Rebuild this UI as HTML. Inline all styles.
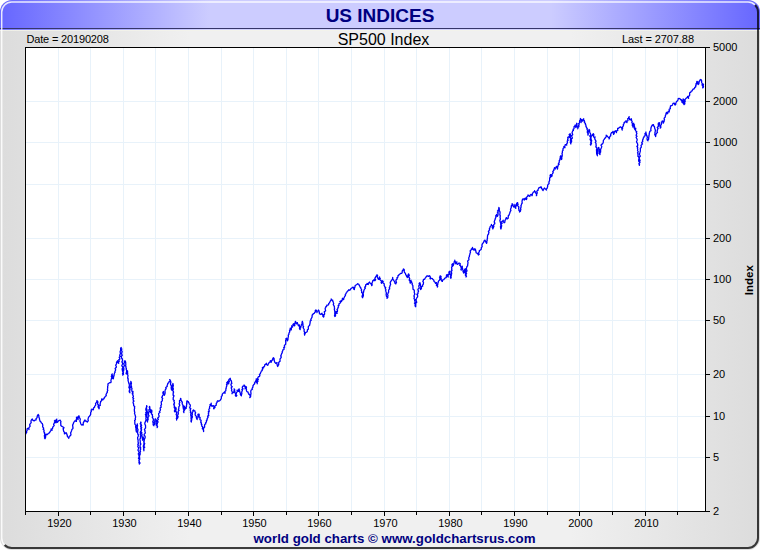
<!DOCTYPE html>
<html><head><meta charset="utf-8"><title>US INDICES</title>
<style>
html,body{margin:0;padding:0;background:#fff;}
body{width:760px;height:550px;overflow:hidden;font-family:"Liberation Sans",sans-serif;}
svg{display:block}
text{font-family:"Liberation Sans",sans-serif;}
</style></head><body>
<svg width="760" height="550" viewBox="0 0 760 550">
<defs>
<linearGradient id="bg" x1="0" y1="0" x2="1" y2="0">
<stop offset="0" stop-color="#dcdcdc"/><stop offset="0.25" stop-color="#f0f0f0"/><stop offset="0.75" stop-color="#f0f0f0"/><stop offset="1" stop-color="#dcdcdc"/>
</linearGradient>
<linearGradient id="tb" x1="0" y1="0" x2="1" y2="0">
<stop offset="0" stop-color="#6666ff"/><stop offset="0.275" stop-color="#ccccff"/><stop offset="0.725" stop-color="#ccccff"/><stop offset="1" stop-color="#6666ff"/>
</linearGradient>
<clipPath id="fr"><rect x="0" y="0" width="760" height="550" rx="12" ry="12"/></clipPath>
<clipPath id="pc"><rect x="25" y="47" width="681" height="465"/></clipPath>
</defs>
<g clip-path="url(#fr)">
<rect x="0" y="0" width="760" height="550" fill="url(#bg)"/>
<rect x="0" y="30" width="760" height="1" fill="#f4f4ea" fill-opacity="0.8"/>
<rect x="0" y="0" width="760" height="30" fill="url(#tb)"/>
<rect x="0" y="29" width="760" height="1" fill="#ffffff" fill-opacity="0.12"/>
<rect x="0" y="28" width="760" height="1" fill="#36366a"/>
</g>
<path d="M4.63,545.07 A10,10 0 0 1 1.7,538 V12 A10,10 0 0 1 11.7,2 H748 A10,10 0 0 1 755.07,4.93" fill="none" stroke="#ffffff" stroke-width="1.5" stroke-opacity="0.85"/>
<path d="M755.07,4.93 A10,10 0 0 1 758,12 V538 A10,10 0 0 1 748,548 H11.7 A10,10 0 0 1 4.63,545.07" fill="none" stroke="#000000" stroke-width="2" stroke-opacity="0.75"/>

<rect x="25" y="47" width="681" height="465" fill="#ffffff"/>
<rect x="58" y="48" width="1" height="463" fill="#e8f2fa"/>
<rect x="90" y="48" width="1" height="463" fill="#e8f2fa"/>
<rect x="123" y="48" width="1" height="463" fill="#e8f2fa"/>
<rect x="155" y="48" width="1" height="463" fill="#e8f2fa"/>
<rect x="188" y="48" width="1" height="463" fill="#e8f2fa"/>
<rect x="221" y="48" width="1" height="463" fill="#e8f2fa"/>
<rect x="253" y="48" width="1" height="463" fill="#e8f2fa"/>
<rect x="286" y="48" width="1" height="463" fill="#e8f2fa"/>
<rect x="318" y="48" width="1" height="463" fill="#e8f2fa"/>
<rect x="351" y="48" width="1" height="463" fill="#e8f2fa"/>
<rect x="384" y="48" width="1" height="463" fill="#e8f2fa"/>
<rect x="416" y="48" width="1" height="463" fill="#e8f2fa"/>
<rect x="449" y="48" width="1" height="463" fill="#e8f2fa"/>
<rect x="481" y="48" width="1" height="463" fill="#e8f2fa"/>
<rect x="514" y="48" width="1" height="463" fill="#e8f2fa"/>
<rect x="547" y="48" width="1" height="463" fill="#e8f2fa"/>
<rect x="579" y="48" width="1" height="463" fill="#e8f2fa"/>
<rect x="612" y="48" width="1" height="463" fill="#e8f2fa"/>
<rect x="645" y="48" width="1" height="463" fill="#e8f2fa"/>
<rect x="677" y="48" width="1" height="463" fill="#e8f2fa"/>
<rect x="26" y="101" width="679" height="1" fill="#e8f2fa"/>
<rect x="26" y="142" width="679" height="1" fill="#e8f2fa"/>
<rect x="26" y="184" width="679" height="1" fill="#e8f2fa"/>
<rect x="26" y="238" width="679" height="1" fill="#e8f2fa"/>
<rect x="26" y="279" width="679" height="1" fill="#e8f2fa"/>
<rect x="26" y="320" width="679" height="1" fill="#e8f2fa"/>
<rect x="26" y="374" width="679" height="1" fill="#e8f2fa"/>
<rect x="26" y="416" width="679" height="1" fill="#e8f2fa"/>
<rect x="26" y="457" width="679" height="1" fill="#e8f2fa"/>
<path d="M25.9,434.2 L25.9,433.2 L26.7,432.5 L26.3,431.5 L27.1,430.8 L27.1,429.9 L27.0,429.0 L27.8,428.3 L28.8,428.5 L29.0,429.5 L28.7,428.5 L29.0,427.7 L29.6,426.9 L30.2,426.1 L29.6,425.0 L29.9,424.2 L30.6,423.4 L31.2,422.6 L31.0,421.6 L31.0,420.7 L31.4,420.0 L32.3,419.0 L32.5,420.1 L33.6,420.3 L34.0,421.0 L34.5,420.3 L35.3,420.1 L36.2,419.9 L36.0,418.8 L36.8,418.1 L37.2,417.2 L37.2,416.2 L37.7,415.4 L38.1,414.4 L38.7,415.1 L38.9,416.0 L38.8,417.0 L39.2,417.8 L39.5,418.7 L39.5,419.6 L39.9,420.5 L40.1,421.3 L41.0,422.1 L41.4,423.0 L42.3,423.5 L42.6,424.5 L42.8,425.5 L42.6,426.5 L43.0,427.4 L43.7,428.2 L43.1,429.3 L44.0,430.1 L44.1,431.0 L43.8,431.9 L44.6,432.7 L44.4,433.6 L45.0,434.3 L44.4,435.3 L44.4,436.2 L44.8,437.0 L44.5,437.9 L45.0,438.7 L45.5,437.8 L45.6,436.8 L45.7,435.9 L45.8,434.9 L45.9,434.1 L47.1,434.7 L47.8,433.9 L48.8,433.5 L49.3,432.6 L50.0,432.0 L50.3,431.2 L50.9,430.6 L51.1,429.8 L51.1,428.9 L51.6,429.4 L52.1,430.2 L51.8,429.2 L52.6,428.6 L52.6,427.7 L52.9,427.0 L53.4,426.4 L54.2,425.6 L53.6,424.5 L54.0,423.6 L54.4,422.8 L55.1,422.0 L54.4,420.9 L55.2,420.1 L55.3,421.1 L55.1,422.1 L55.9,422.9 L56.4,422.1 L56.0,420.9 L56.4,420.0 L56.8,419.1 L56.5,420.1 L56.7,420.9 L57.8,421.5 L57.5,422.3 L58.0,421.4 L58.9,420.6 L59.5,420.4 L60.1,420.1 L60.6,421.0 L61.0,421.8 L60.6,422.7 L60.8,423.6 L60.8,424.5 L60.8,425.4 L61.4,425.9 L62.0,426.4 L62.6,426.8 L63.2,427.0 L64.0,427.8 L63.1,428.8 L63.4,429.7 L63.5,430.6 L63.7,431.4 L64.4,432.2 L64.5,433.0 L64.4,433.8 L65.3,433.4 L66.0,432.6 L66.6,433.4 L66.8,434.3 L67.2,435.2 L67.3,436.1 L67.6,436.9 L68.6,437.2 L68.8,438.3 L68.9,437.3 L69.6,436.6 L70.0,435.8 L70.9,435.0 L70.9,434.1 L70.6,433.0 L71.0,432.1 L71.4,431.3 L71.7,430.4 L71.9,429.5 L72.7,428.8 L73.1,428.0 L72.7,427.0 L72.9,426.2 L72.6,425.2 L72.9,424.4 L73.4,423.6 L73.5,422.8 L74.0,422.1 L74.4,421.2 L75.3,420.9 L76.4,421.4 L76.4,420.5 L76.2,419.5 L76.8,418.8 L76.4,417.7 L77.1,417.0 L76.9,418.0 L77.3,418.8 L78.1,419.5 L78.0,418.5 L78.3,417.6 L78.4,416.6 L78.9,415.8 L79.2,416.6 L79.2,417.6 L79.9,418.3 L80.3,419.2 L80.1,420.2 L79.9,421.2 L80.3,422.1 L80.6,423.1 L80.9,424.0 L81.5,425.0 L82.4,424.7 L83.1,425.1 L83.3,424.2 L83.2,423.2 L83.5,422.3 L84.1,421.5 L84.4,420.7 L85.0,419.9 L85.3,421.0 L86.5,421.2 L87.3,422.1 L88.0,421.2 L88.3,420.3 L87.9,419.1 L88.3,418.2 L88.5,417.4 L88.9,416.8 L89.5,416.3 L90.0,415.5 L90.6,414.7 L90.7,413.8 L90.6,412.8 L91.0,411.9 L91.4,411.1 L91.1,410.0 L91.9,409.6 L92.0,409.0 L92.4,409.6 L93.3,409.9 L93.5,408.9 L93.6,407.9 L94.6,407.3 L94.6,406.3 L95.3,405.6 L95.8,404.9 L95.5,403.9 L95.8,403.0 L96.7,402.5 L96.8,401.6 L96.9,400.6 L97.6,401.3 L97.9,402.2 L97.6,403.2 L97.7,404.2 L98.6,405.0 L98.1,406.1 L98.1,407.1 L98.7,407.9 L99.0,408.8 L99.3,407.9 L99.0,406.9 L99.0,406.0 L100.3,405.4 L100.1,404.4 L100.2,403.5 L100.5,402.6 L100.6,401.6 L101.4,400.9 L101.6,400.0 L101.7,398.9 L102.4,399.3 L102.8,400.0 L103.2,399.1 L104.1,398.6 L104.3,397.6 L105.0,397.0 L105.4,396.2 L106.3,395.6 L106.0,394.6 L106.4,393.8 L106.8,393.0 L107.4,392.2 L107.2,391.3 L107.8,390.4 L107.4,389.3 L107.6,388.4 L107.7,387.4 L107.6,386.4 L108.0,385.7 L107.9,384.8 L108.0,383.9 L108.8,383.4 L109.6,382.6 L110.7,382.7 L111.1,381.9 L111.0,380.9 L110.9,380.0 L111.3,379.2 L111.5,378.3 L111.9,377.5 L111.3,376.5 L111.9,375.7 L111.7,374.7 L112.3,373.9 L112.0,374.8 L112.5,375.6 L112.6,376.4 L112.5,377.3 L112.5,378.2 L113.2,378.9 L113.5,378.1 L113.5,377.3 L113.7,376.4 L114.1,375.6 L114.0,374.7 L114.3,373.9 L114.4,373.1 L115.1,372.3 L114.9,371.4 L115.4,370.6 L115.7,369.8 L115.1,368.7 L115.6,368.0 L116.3,367.2 L116.3,366.3 L115.7,365.3 L116.2,364.4 L116.6,363.5 L116.5,362.4 L117.0,361.6 L117.7,360.7 L117.7,361.6 L117.9,362.5 L118.7,363.3 L118.3,362.3 L119.1,361.6 L119.2,360.8 L118.7,359.8 L119.8,359.1 L119.6,358.2 L119.2,357.3 L120.2,356.5 L119.7,355.6 L119.9,354.7 L120.3,353.9 L120.6,353.0 L120.0,352.0 L120.4,351.1 L120.7,350.2 L120.6,349.3 L120.6,348.4 L121.2,347.5 L120.9,348.4 L121.9,349.0 L121.4,349.9 L121.6,350.7 L122.2,351.6 L121.9,352.5 L121.6,353.5 L121.8,354.4 L122.3,355.3 L121.3,356.3 L121.6,357.2 L121.4,358.1 L122.5,359.0 L122.3,359.9 L122.6,360.8 L121.8,361.8 L122.4,362.7 L122.7,363.6 L122.3,364.5 L121.8,365.5 L122.2,366.4 L122.7,367.2 L122.9,368.1 L122.0,369.0 L122.5,369.9 L122.3,370.8 L123.1,371.6 L123.2,372.5 L122.5,373.4 L122.9,374.3 L122.7,375.1 L123.5,374.3 L123.2,373.4 L123.5,372.6 L122.7,371.6 L123.8,370.8 L122.9,369.8 L124.0,369.1 L123.6,368.1 L123.6,367.2 L123.9,366.4 L124.5,365.5 L123.9,364.4 L123.9,363.5 L124.5,362.6 L124.4,361.6 L125.0,360.7 L125.4,361.5 L125.7,362.4 L125.7,363.3 L125.8,364.2 L125.8,365.1 L125.5,366.0 L126.1,366.9 L125.9,367.8 L126.4,368.6 L126.2,369.5 L126.7,370.4 L126.5,371.3 L126.8,372.1 L126.0,373.1 L126.4,373.9 L126.3,373.0 L126.8,372.3 L127.6,371.7 L127.5,370.8 L127.1,371.7 L127.6,372.6 L127.7,373.5 L127.4,374.4 L128.0,375.3 L127.9,376.2 L127.8,377.1 L127.6,378.1 L128.3,378.9 L127.9,379.9 L128.2,380.8 L128.4,381.7 L128.7,382.6 L128.9,383.5 L129.3,384.4 L129.3,385.3 L129.5,386.2 L128.8,387.2 L129.4,388.0 L129.4,388.9 L129.9,389.8 L129.2,390.9 L129.3,391.9 L129.9,392.7 L129.7,391.8 L129.7,391.0 L129.8,390.1 L130.1,389.3 L129.8,388.4 L130.2,387.5 L130.1,386.6 L131.0,385.8 L131.0,385.0 L130.6,384.0 L130.3,383.2 L131.2,382.4 L130.8,381.4 L131.0,382.3 L131.5,383.1 L131.2,384.1 L131.1,384.9 L131.2,385.8 L131.6,386.7 L131.4,387.6 L132.0,388.4 L131.8,389.3 L131.8,390.2 L131.9,391.1 L132.5,392.0 L132.8,392.9 L132.3,394.0 L132.3,393.1 L132.9,392.3 L133.0,391.5 L132.7,392.4 L132.9,393.2 L132.9,394.1 L132.7,395.0 L133.3,395.9 L133.4,396.7 L132.7,397.7 L133.7,398.5 L133.1,399.4 L133.3,400.3 L134.0,401.1 L133.1,402.0 L133.1,402.9 L133.6,403.8 L133.6,404.8 L133.7,405.7 L134.7,406.5 L134.5,407.5 L134.6,408.5 L134.3,409.4 L134.4,410.4 L134.4,411.3 L134.8,412.2 L134.5,413.2 L134.8,414.1 L135.1,415.1 L135.4,416.0 L135.6,416.9 L135.5,417.8 L135.2,418.7 L135.5,419.6 L134.6,420.5 L134.9,421.4 L134.8,422.3 L134.8,423.2 L134.9,424.1 L135.3,424.8 L136.1,425.4 L135.6,426.4 L135.6,427.3 L136.0,428.2 L136.0,429.2 L136.0,430.1 L136.8,431.0 L136.5,432.0 L136.2,431.1 L136.1,430.1 L136.4,429.3 L137.1,428.4 L136.5,427.4 L137.3,426.6 L137.6,425.7 L137.2,424.8 L137.3,423.8 L137.3,424.8 L137.1,425.7 L137.1,426.6 L137.3,427.5 L137.3,428.4 L138.0,429.3 L137.9,430.2 L137.8,431.1 L137.3,432.1 L137.8,433.0 L137.6,433.9 L138.3,434.7 L138.3,435.6 L138.1,436.5 L137.6,437.4 L137.7,438.2 L137.7,439.1 L138.2,440.0 L138.0,440.8 L138.1,441.7 L138.2,442.6 L138.6,443.4 L137.8,444.3 L138.4,445.2 L137.8,446.1 L137.9,446.9 L139.0,447.8 L138.5,448.7 L138.1,449.5 L138.0,450.4 L138.7,451.3 L138.9,452.1 L139.1,453.0 L138.2,453.9 L139.2,454.7 L138.8,455.6 L139.1,456.5 L139.0,457.4 L138.5,458.4 L139.6,459.3 L138.8,460.3 L139.3,461.2 L138.9,462.2 L139.2,463.1 L139.4,464.0 L140.0,463.1 L139.6,462.2 L139.1,461.2 L139.1,460.3 L139.7,459.4 L139.7,458.5 L139.6,457.6 L139.4,456.6 L139.7,455.7 L139.7,454.8 L140.4,453.9 L139.4,452.9 L140.4,452.1 L140.5,451.1 L140.0,450.2 L140.7,449.3 L140.5,448.4 L140.7,447.6 L140.0,446.7 L140.1,445.8 L140.2,444.9 L140.9,444.0 L140.4,443.1 L140.2,442.2 L140.3,441.3 L140.1,440.4 L139.9,439.6 L140.0,438.7 L140.9,437.8 L140.2,436.9 L141.0,436.0 L140.4,435.1 L140.3,434.3 L140.6,433.4 L140.2,432.5 L140.5,431.6 L141.2,430.8 L141.1,429.9 L141.0,429.0 L140.8,428.1 L141.2,427.2 L141.2,426.4 L140.8,425.5 L141.0,424.6 L140.2,423.7 L141.1,422.8 L140.8,422.0 L140.6,422.9 L140.8,423.8 L141.3,424.7 L141.6,425.5 L140.6,426.5 L141.7,427.4 L141.3,428.3 L141.5,429.2 L141.5,430.1 L141.2,431.1 L141.0,432.0 L141.9,432.8 L141.5,433.8 L142.1,434.7 L141.8,435.6 L142.1,436.5 L142.5,437.4 L142.5,438.3 L142.6,439.2 L142.5,440.2 L142.5,439.4 L142.5,438.5 L143.5,438.0 L143.1,437.0 L143.4,437.9 L143.8,438.8 L143.8,439.8 L144.0,440.7 L143.7,441.6 L144.0,442.5 L143.9,443.5 L143.9,444.4 L143.6,445.3 L143.3,446.2 L143.5,447.2 L143.9,448.1 L143.9,449.0 L143.9,449.9 L143.9,450.8 L143.8,449.9 L143.5,449.0 L143.8,448.1 L144.7,447.2 L143.7,446.2 L144.2,445.3 L144.4,444.4 L144.7,443.5 L144.0,442.6 L144.1,441.6 L144.2,440.7 L144.4,439.8 L144.5,438.9 L145.1,438.0 L145.1,437.1 L145.1,436.2 L144.1,435.2 L144.2,434.3 L145.1,433.4 L145.3,432.5 L144.9,431.5 L145.0,430.6 L144.4,429.7 L144.9,428.8 L145.6,427.9 L145.5,427.0 L145.6,426.0 L145.4,425.1 L144.9,424.2 L144.8,423.3 L145.0,422.4 L145.5,421.6 L145.7,420.7 L146.1,419.9 L145.9,419.0 L145.9,418.1 L146.1,417.2 L145.8,416.3 L145.9,415.4 L145.4,414.5 L146.3,413.7 L145.7,412.7 L146.6,411.9 L146.3,411.0 L145.9,410.1 L145.8,409.2 L146.0,408.3 L146.5,407.4 L146.6,406.6 L146.6,405.6 L147.0,406.5 L146.5,407.5 L146.5,408.4 L146.8,409.3 L147.1,410.2 L146.7,411.1 L147.5,412.0 L147.2,412.9 L147.1,413.8 L146.6,414.8 L147.0,415.6 L146.8,416.6 L147.4,417.4 L147.7,418.3 L147.8,419.2 L147.0,420.2 L147.4,421.1 L147.6,422.0 L147.2,421.0 L147.9,420.1 L148.2,419.3 L148.0,418.3 L148.0,417.4 L148.6,416.6 L149.0,415.7 L148.3,414.7 L148.5,413.8 L148.6,412.8 L148.8,411.9 L149.2,411.0 L148.8,410.0 L149.6,409.1 L149.6,408.2 L149.5,407.2 L149.7,406.3 L149.2,407.3 L150.1,408.0 L149.6,409.0 L150.5,409.8 L150.6,410.7 L150.1,411.7 L150.5,412.5 L151.4,411.9 L151.2,410.9 L151.6,410.0 L151.9,410.9 L151.8,411.9 L151.6,412.9 L151.4,413.9 L152.5,414.7 L152.3,415.7 L152.7,416.6 L152.3,417.6 L153.0,418.3 L153.3,419.2 L153.4,420.0 L153.2,420.9 L152.7,421.8 L153.2,422.6 L153.2,423.4 L153.1,424.3 L153.3,425.0 L153.9,425.7 L153.8,424.8 L154.8,424.1 L154.7,423.2 L154.0,422.2 L154.9,421.5 L154.8,420.5 L154.9,419.7 L155.3,418.8 L155.8,419.5 L156.3,420.2 L156.2,421.1 L156.3,422.0 L155.8,423.0 L157.0,423.8 L156.1,424.9 L157.2,425.7 L157.1,426.6 L157.2,427.6 L157.6,426.7 L157.2,425.7 L156.8,424.7 L157.4,423.8 L157.3,422.9 L158.1,422.0 L157.3,421.0 L157.7,420.1 L158.4,419.4 L157.6,418.3 L158.3,417.5 L158.9,416.8 L159.1,416.0 L158.8,415.0 L158.6,414.1 L158.8,413.2 L160.0,412.5 L159.4,411.4 L160.2,410.6 L160.5,409.8 L160.2,408.8 L160.2,407.9 L161.2,407.3 L161.0,406.3 L160.8,405.4 L161.5,404.7 L161.4,403.8 L161.3,402.8 L161.1,401.9 L162.1,401.1 L162.4,400.2 L162.2,399.2 L162.7,398.4 L161.7,397.3 L162.3,396.5 L162.5,395.7 L163.2,394.9 L163.4,394.1 L162.9,393.1 L162.9,392.3 L163.4,391.5 L163.6,392.4 L163.3,393.5 L164.4,394.2 L164.4,395.3 L164.7,394.5 L165.0,393.6 L165.1,392.8 L165.1,391.9 L164.9,391.0 L165.2,390.2 L165.4,389.4 L166.2,388.8 L165.7,387.7 L166.4,387.0 L167.2,386.4 L167.1,385.3 L167.6,384.5 L167.8,383.4 L168.8,382.7 L168.9,381.8 L169.9,381.3 L170.1,380.5 L169.7,379.6 L170.3,380.4 L170.7,381.3 L170.9,382.3 L170.6,383.3 L170.5,384.3 L170.9,385.2 L171.4,386.0 L171.3,386.9 L171.2,387.7 L171.3,388.6 L171.4,389.4 L171.9,390.2 L172.1,389.4 L171.6,388.4 L172.6,387.7 L172.0,386.7 L172.5,385.9 L172.4,385.0 L172.9,384.2 L172.9,383.3 L173.1,384.2 L173.2,385.1 L173.4,386.0 L172.5,386.9 L173.0,387.8 L173.3,388.6 L173.3,389.5 L172.6,390.5 L173.3,391.3 L173.6,392.2 L173.0,393.1 L173.4,394.0 L172.9,395.0 L174.0,395.8 L173.6,396.8 L173.2,397.8 L173.2,398.7 L173.2,399.7 L174.3,400.6 L173.9,401.5 L174.4,402.3 L174.5,403.2 L173.7,404.2 L174.4,405.0 L174.0,405.9 L174.7,406.7 L174.2,407.6 L174.8,408.5 L175.1,409.3 L174.6,410.2 L174.4,411.1 L174.9,411.9 L175.3,411.1 L175.4,410.2 L175.1,409.2 L175.4,408.4 L175.8,407.5 L176.1,408.4 L176.1,409.3 L175.8,410.2 L175.8,411.1 L176.4,412.0 L176.7,412.9 L176.5,413.8 L176.1,414.7 L176.8,415.6 L176.7,416.5 L176.9,417.4 L176.3,418.3 L176.7,419.2 L176.6,420.0 L176.7,419.1 L177.4,418.4 L177.8,417.6 L178.1,416.7 L177.5,415.7 L177.7,414.8 L178.4,413.9 L178.2,413.0 L178.1,412.1 L178.2,411.2 L179.1,410.3 L178.4,409.3 L178.8,408.5 L178.8,407.5 L178.9,406.7 L179.5,405.9 L179.8,405.1 L179.2,404.2 L179.2,403.3 L179.8,402.5 L179.5,401.6 L179.5,400.7 L180.8,400.1 L180.4,399.2 L180.6,398.4 L181.0,399.1 L180.7,400.1 L181.4,400.7 L181.7,401.5 L182.4,402.2 L182.1,403.3 L182.4,404.2 L182.7,405.0 L183.4,405.9 L182.9,406.9 L183.4,407.8 L183.3,408.8 L183.9,409.7 L183.8,410.6 L183.7,411.6 L184.0,412.6 L183.5,411.6 L184.1,410.8 L184.6,409.9 L184.9,409.0 L184.1,408.0 L184.1,407.1 L184.5,406.3 L184.5,407.3 L185.4,407.9 L185.5,408.8 L186.4,408.0 L185.9,407.1 L186.6,406.4 L186.4,405.5 L186.8,404.7 L186.5,403.7 L187.1,403.0 L186.6,402.1 L187.0,401.3 L187.1,400.6 L187.3,401.4 L188.4,401.6 L188.6,402.4 L189.0,403.1 L189.3,403.8 L189.8,404.4 L190.3,405.2 L190.3,406.1 L189.8,407.0 L189.7,407.9 L190.8,408.6 L190.3,409.6 L190.2,410.5 L190.8,411.3 L190.3,412.2 L191.2,413.0 L190.7,414.0 L190.8,414.9 L190.8,415.8 L191.2,416.6 L191.1,417.5 L191.0,418.4 L191.3,419.3 L191.1,420.2 L191.4,421.1 L191.3,422.0 L190.9,421.0 L191.7,420.3 L191.7,419.4 L191.5,418.5 L192.2,417.7 L192.4,416.8 L192.1,415.9 L192.1,415.0 L192.4,414.2 L192.2,413.3 L192.4,412.4 L193.0,411.7 L192.8,410.8 L193.5,410.0 L194.0,410.7 L194.9,410.9 L195.0,411.9 L195.7,412.8 L195.1,413.9 L195.2,414.9 L195.7,415.8 L196.5,416.6 L196.3,417.7 L196.7,418.6 L197.1,419.6 L196.7,418.6 L197.7,418.0 L198.0,417.2 L197.9,416.3 L198.1,415.5 L197.9,414.4 L198.9,414.0 L199.3,414.9 L199.0,416.0 L199.3,416.9 L200.2,417.7 L199.9,418.7 L199.9,419.6 L201.1,420.3 L201.0,421.2 L200.7,422.2 L201.5,423.0 L201.2,424.0 L201.9,424.8 L201.6,426.0 L202.7,426.7 L202.6,427.7 L202.3,428.8 L203.4,429.5 L203.6,430.5 L203.6,431.5 L203.5,430.6 L203.3,429.6 L203.6,428.8 L203.7,427.9 L204.7,427.1 L204.5,426.1 L204.6,425.3 L204.8,424.3 L205.8,424.0 L205.5,423.0 L206.2,422.3 L206.5,421.5 L206.4,420.6 L207.2,419.9 L207.0,419.0 L207.5,418.1 L208.1,417.1 L207.6,416.1 L208.8,415.4 L208.5,414.5 L208.3,413.6 L208.9,412.8 L208.3,411.8 L209.3,411.1 L208.9,410.2 L208.9,409.2 L209.7,408.4 L209.5,407.3 L209.7,406.3 L210.4,405.7 L210.0,404.6 L211.1,404.2 L211.2,403.2 L211.2,404.1 L211.0,405.0 L211.7,405.6 L212.0,406.5 L212.5,405.9 L213.4,405.7 L213.9,406.4 L214.0,407.3 L213.6,408.2 L213.8,408.9 L214.2,408.1 L215.0,407.4 L214.8,406.3 L215.4,405.5 L216.4,405.2 L216.1,404.1 L216.4,403.2 L217.1,402.4 L217.1,401.5 L217.9,400.7 L218.8,401.3 L219.6,400.8 L220.2,400.2 L220.7,399.5 L221.2,398.6 L221.4,397.6 L221.3,396.5 L222.2,395.8 L222.2,394.8 L222.5,393.9 L223.2,393.1 L224.0,392.7 L224.4,392.0 L224.5,392.7 L225.1,393.2 L225.0,392.3 L224.9,391.4 L225.8,390.7 L225.9,389.8 L225.8,388.9 L226.3,388.1 L226.2,387.2 L226.6,386.4 L226.9,385.6 L226.5,384.6 L227.5,383.9 L226.7,382.8 L227.5,382.1 L227.7,381.3 L228.3,382.0 L228.8,382.8 L228.7,383.8 L228.1,382.8 L228.9,382.1 L229.5,381.2 L228.6,380.2 L229.1,379.3 L229.8,378.9 L230.2,378.2 L230.4,379.1 L230.5,380.0 L231.3,380.7 L231.5,381.5 L231.5,382.4 L231.9,383.3 L230.9,384.2 L231.1,385.1 L231.3,386.0 L232.2,386.8 L231.2,387.7 L231.4,388.6 L231.8,389.5 L231.5,390.4 L231.9,391.2 L232.3,392.1 L232.5,392.9 L232.0,393.8 L232.3,392.8 L233.3,392.6 L233.8,391.7 L234.0,390.8 L234.4,389.9 L234.1,388.8 L234.7,389.6 L234.5,390.6 L234.9,391.4 L234.7,392.4 L235.2,393.2 L235.7,393.9 L235.5,394.8 L235.4,395.7 L236.1,396.3 L236.8,395.5 L235.9,394.5 L236.3,393.6 L236.4,392.7 L237.1,391.9 L237.5,391.1 L237.0,390.2 L237.9,390.6 L238.5,391.4 L238.4,390.4 L238.6,389.6 L239.1,388.9 L239.3,389.8 L239.5,390.8 L239.8,391.7 L240.0,392.7 L240.5,393.4 L240.3,394.3 L240.7,395.0 L241.4,395.8 L241.3,394.8 L241.8,394.0 L241.8,393.1 L241.7,392.2 L242.0,391.3 L242.4,390.5 L241.9,389.6 L243.0,388.9 L242.3,387.9 L242.3,387.1 L242.9,386.2 L243.9,386.0 L244.1,385.0 L244.7,385.9 L245.0,386.8 L245.3,387.7 L245.1,388.9 L245.4,388.0 L245.8,387.2 L245.8,386.3 L246.5,387.2 L246.1,388.2 L246.5,389.1 L246.4,390.2 L246.6,390.9 L246.9,391.6 L247.9,391.8 L248.1,392.9 L248.8,393.3 L248.7,394.2 L249.9,394.9 L250.0,395.8 L250.3,396.6 L249.8,397.6 L250.6,396.7 L250.7,395.8 L250.6,394.8 L251.0,393.9 L250.9,392.9 L250.8,391.9 L250.8,390.9 L251.2,390.0 L252.3,389.4 L252.1,388.3 L252.7,387.5 L253.0,386.8 L252.9,385.8 L253.4,385.1 L253.9,384.4 L254.7,383.7 L254.7,382.7 L255.2,381.9 L256.1,381.3 L255.8,380.4 L256.4,379.7 L256.2,378.8 L257.0,379.5 L256.7,380.4 L256.8,381.3 L256.5,382.2 L257.2,382.9 L257.2,383.8 L257.3,382.9 L257.1,382.0 L258.0,381.2 L257.3,380.1 L258.3,379.4 L257.6,378.4 L258.0,377.4 L258.4,376.7 L259.4,376.5 L259.9,375.7 L259.4,374.5 L260.3,373.8 L260.6,372.8 L261.0,372.0 L261.3,371.0 L262.2,370.6 L262.1,369.7 L262.9,368.9 L262.3,367.9 L262.7,367.3 L263.7,367.7 L263.8,366.8 L264.6,366.3 L264.7,365.4 L264.9,364.5 L265.8,364.1 L266.4,363.3 L266.4,364.2 L266.9,364.7 L267.7,365.3 L268.1,364.7 L268.2,363.9 L268.8,363.3 L269.2,362.5 L270.2,361.9 L270.4,360.7 L270.6,361.8 L271.4,362.0 L271.5,361.2 L271.8,360.4 L272.8,359.9 L272.6,359.0 L273.0,358.2 L273.4,357.8 L274.1,358.4 L274.1,359.3 L274.2,360.1 L274.4,360.9 L274.6,361.8 L275.1,362.6 L275.7,363.3 L276.2,362.9 L277.1,362.7 L276.8,363.8 L277.2,364.7 L277.3,365.6 L277.7,366.5 L278.0,365.5 L278.7,364.7 L278.7,363.7 L278.7,362.7 L279.2,361.9 L280.1,361.3 L280.0,360.2 L280.0,359.3 L280.3,358.5 L281.0,357.8 L281.3,357.0 L280.7,355.9 L281.2,355.2 L281.4,354.2 L281.8,353.4 L282.3,352.6 L282.2,351.6 L282.8,350.8 L282.8,349.9 L284.0,349.5 L284.1,348.7 L283.7,347.6 L284.7,347.1 L284.2,346.0 L284.8,345.1 L285.7,344.3 L285.7,343.4 L285.8,342.4 L285.7,341.4 L285.6,340.5 L286.2,339.9 L285.8,339.0 L286.5,338.2 L286.8,339.0 L287.6,339.7 L287.3,340.8 L287.9,339.9 L288.0,338.9 L288.0,337.9 L288.3,337.0 L288.4,336.1 L288.2,335.2 L288.9,334.4 L288.9,333.5 L289.2,332.6 L289.8,331.8 L289.5,330.8 L289.8,330.0 L290.2,329.2 L290.2,328.2 L290.8,329.1 L290.9,330.1 L291.4,329.3 L291.4,328.4 L291.5,327.5 L291.9,326.7 L291.6,325.8 L292.0,326.4 L292.6,327.0 L292.7,326.1 L293.3,325.4 L292.9,324.5 L293.7,323.8 L293.8,324.9 L294.6,325.7 L294.9,324.9 L294.6,323.9 L295.0,323.1 L295.2,322.2 L295.4,321.3 L295.8,322.1 L295.9,323.1 L296.6,323.9 L296.6,323.0 L297.4,322.6 L297.3,323.4 L298.0,324.1 L298.1,324.9 L298.4,325.9 L299.4,325.0 L299.3,326.0 L300.0,326.7 L299.5,327.8 L299.5,328.7 L300.2,329.5 L299.9,328.5 L300.7,327.7 L300.8,326.8 L301.2,326.0 L301.2,325.1 L301.7,324.2 L302.2,323.3 L302.1,322.3 L302.5,321.3 L302.0,322.3 L303.0,323.1 L302.6,324.0 L303.1,324.9 L302.8,325.8 L303.6,326.6 L303.1,327.6 L303.6,328.5 L304.2,329.4 L304.1,330.4 L304.1,331.3 L304.7,332.2 L304.4,333.2 L304.5,334.2 L304.6,335.2 L304.8,334.2 L305.2,333.3 L305.7,332.5 L306.7,332.2 L307.3,331.4 L307.4,330.6 L307.4,329.7 L308.4,329.1 L308.3,328.2 L308.3,327.2 L308.5,326.2 L309.6,325.5 L309.7,324.5 L310.0,323.7 L310.0,322.8 L310.3,322.0 L310.1,321.0 L311.2,320.4 L310.8,319.4 L311.3,318.5 L311.8,317.7 L312.1,316.7 L312.1,315.7 L312.3,314.9 L313.0,314.4 L313.2,313.7 L314.3,313.4 L314.6,312.5 L315.4,311.9 L315.2,310.7 L315.9,310.0 L316.6,310.7 L316.8,311.7 L317.0,312.5 L317.0,311.4 L318.2,311.0 L318.5,310.0 L319.0,310.9 L319.2,311.8 L319.3,312.8 L319.6,313.8 L320.2,314.2 L320.9,314.5 L321.4,313.7 L322.0,313.2 L322.1,314.2 L323.3,314.9 L322.7,316.1 L323.6,317.0 L324.0,316.1 L323.5,315.0 L324.5,314.4 L324.6,313.5 L324.5,312.5 L324.3,311.6 L325.6,311.0 L325.5,310.1 L325.2,309.1 L325.2,308.2 L325.8,307.5 L325.9,306.6 L326.8,306.1 L326.8,305.2 L327.4,305.1 L328.4,304.9 L328.7,304.2 L328.7,303.3 L329.6,303.0 L329.7,302.2 L330.1,301.5 L330.6,300.7 L331.3,300.0 L331.2,299.0 L331.6,299.9 L332.7,300.2 L332.7,301.1 L333.2,301.9 L333.4,302.7 L333.7,303.6 L333.3,304.6 L333.8,305.5 L334.3,306.4 L334.4,307.4 L334.6,308.3 L334.3,309.3 L334.6,310.2 L334.6,311.1 L335.0,312.0 L334.7,312.9 L334.8,313.8 L334.8,314.7 L334.5,315.7 L334.9,316.5 L335.6,315.8 L335.4,314.8 L335.6,314.0 L335.9,313.2 L336.3,312.4 L336.1,311.5 L336.6,312.4 L337.1,313.4 L336.6,312.4 L337.4,311.5 L337.5,310.6 L337.0,309.5 L337.8,308.7 L337.9,307.7 L338.6,306.9 L338.1,305.8 L339.1,305.1 L338.8,304.0 L339.8,303.3 L340.6,302.7 L339.9,301.5 L340.7,300.9 L341.6,301.5 L341.7,300.6 L342.5,300.0 L342.2,299.1 L342.6,298.3 L343.1,299.0 L343.7,299.6 L343.6,298.6 L344.1,297.9 L344.4,297.0 L344.8,296.3 L345.5,295.6 L345.2,294.6 L345.8,294.0 L346.2,293.0 L346.8,292.3 L347.3,291.4 L347.9,290.8 L348.8,290.5 L348.8,289.6 L349.3,290.2 L350.1,290.1 L350.4,289.4 L350.8,288.8 L351.4,288.3 L352.2,287.8 L352.8,287.1 L353.8,287.6 L353.5,288.8 L354.3,289.6 L354.5,288.7 L354.3,287.7 L355.1,287.0 L355.0,285.9 L355.6,285.2 L356.5,284.7 L357.1,284.2 L357.6,283.7 L358.1,284.2 L358.8,284.2 L359.1,284.9 L359.4,285.7 L359.9,286.4 L360.2,287.2 L360.8,287.7 L360.8,288.6 L361.6,289.4 L361.3,290.5 L361.8,291.4 L361.6,292.4 L362.5,293.1 L362.5,294.1 L362.8,294.9 L362.1,295.9 L362.1,296.9 L362.7,297.7 L362.7,296.8 L363.3,296.1 L363.4,295.2 L363.3,294.4 L363.1,293.5 L363.5,292.6 L363.7,291.7 L363.8,290.7 L364.2,289.8 L364.6,288.9 L365.3,288.3 L364.7,287.1 L365.6,286.6 L365.6,285.7 L365.8,284.7 L367.0,284.3 L367.0,283.3 L367.3,284.2 L368.3,284.5 L368.2,283.4 L369.0,282.8 L369.5,282.0 L369.8,283.0 L370.6,283.3 L371.2,284.1 L371.6,284.9 L371.7,285.7 L372.2,284.9 L371.9,283.8 L372.1,282.8 L372.5,281.9 L372.6,280.9 L373.7,280.4 L374.1,279.4 L374.0,280.5 L374.8,280.7 L375.6,279.9 L375.0,278.8 L375.1,277.8 L375.9,277.0 L375.9,276.2 L376.7,275.7 L376.8,274.8 L377.6,275.3 L377.1,276.4 L377.6,277.0 L377.7,278.0 L378.1,278.8 L378.6,279.4 L379.2,278.7 L379.6,277.9 L379.6,277.0 L379.3,277.9 L380.3,278.5 L379.7,279.5 L380.4,280.1 L381.3,280.7 L381.5,281.5 L381.1,282.5 L381.6,283.3 L381.4,282.2 L382.0,281.5 L382.4,280.8 L383.2,281.5 L382.7,282.6 L383.4,283.3 L384.2,283.8 L384.2,284.8 L384.2,285.6 L384.7,286.4 L384.9,287.1 L385.7,287.6 L385.3,288.6 L385.9,289.5 L385.7,290.5 L385.9,291.4 L386.2,292.3 L386.4,293.3 L386.1,294.3 L386.3,295.2 L386.3,296.0 L386.8,296.8 L387.2,297.5 L387.0,298.3 L387.8,297.5 L387.7,296.5 L388.0,295.6 L387.5,294.5 L388.0,293.6 L388.2,292.7 L388.7,292.0 L388.6,291.1 L388.6,290.2 L389.0,289.5 L389.7,288.8 L389.3,287.7 L389.8,286.9 L389.9,286.0 L390.2,285.2 L390.6,284.4 L390.3,283.3 L390.2,282.3 L390.8,281.5 L391.3,280.7 L391.7,280.0 L392.3,279.3 L392.7,278.6 L392.7,277.5 L392.6,278.6 L393.0,279.5 L393.7,280.2 L394.2,281.1 L394.8,282.0 L394.8,283.1 L395.8,283.9 L396.1,283.1 L396.5,282.2 L396.0,281.2 L395.9,280.3 L396.6,279.5 L397.2,278.8 L396.9,277.8 L397.8,277.3 L398.0,276.5 L398.0,275.6 L398.8,275.2 L399.1,274.5 L399.7,274.1 L400.3,273.7 L400.8,273.3 L401.7,273.3 L402.2,272.5 L402.2,271.5 L402.4,270.6 L403.4,269.9 L403.4,268.9 L404.2,269.6 L404.3,270.7 L404.2,271.7 L404.6,272.6 L405.3,273.2 L405.6,274.0 L405.7,274.8 L406.5,275.5 L406.5,276.3 L407.1,276.8 L407.3,277.6 L407.4,276.6 L407.9,275.8 L408.1,274.8 L408.5,273.9 L409.0,274.7 L409.3,275.6 L408.3,276.8 L409.2,277.6 L409.7,278.5 L409.3,279.5 L409.3,280.5 L410.3,281.3 L410.0,282.3 L410.3,283.2 L410.6,282.5 L410.2,281.5 L410.5,280.8 L411.0,280.2 L411.0,281.1 L411.7,281.9 L411.8,282.8 L412.3,283.6 L412.1,284.6 L412.8,285.4 L412.9,286.4 L412.9,287.3 L413.0,288.3 L413.0,289.2 L414.0,289.9 L414.4,290.8 L414.3,291.7 L414.3,292.7 L414.7,293.5 L414.8,294.3 L414.2,295.2 L413.9,296.1 L414.4,296.9 L414.2,297.7 L414.0,298.7 L415.1,299.5 L414.6,300.4 L414.9,301.3 L415.3,302.2 L414.4,303.1 L415.2,304.0 L415.1,304.9 L415.1,305.9 L415.6,306.8 L415.8,305.9 L415.6,305.0 L415.8,304.1 L415.6,303.2 L416.7,302.5 L416.5,301.5 L416.1,300.5 L416.1,299.6 L416.5,298.7 L416.7,297.9 L417.5,297.1 L417.7,296.2 L417.5,295.2 L416.9,294.3 L418.0,293.6 L418.0,292.7 L418.1,291.9 L418.6,291.1 L418.0,290.1 L417.9,289.3 L418.8,288.6 L419.2,287.8 L419.0,286.9 L418.7,286.0 L419.1,285.2 L419.6,284.4 L419.1,283.4 L419.9,282.6 L420.2,283.5 L420.5,284.3 L420.2,285.2 L420.7,286.0 L420.7,286.9 L420.9,287.8 L420.4,288.7 L420.5,289.5 L421.4,288.7 L421.5,287.6 L421.4,286.6 L422.7,286.2 L422.5,285.1 L423.3,284.3 L423.4,283.4 L423.5,282.4 L422.8,281.3 L423.4,280.4 L423.5,279.4 L424.6,279.3 L425.0,278.4 L425.6,277.7 L426.1,277.0 L426.6,276.2 L427.3,275.9 L428.0,276.0 L428.6,276.4 L429.6,275.7 L430.0,276.4 L430.4,277.2 L429.9,278.2 L430.4,278.9 L430.8,278.2 L431.5,278.4 L432.5,278.7 L432.9,279.5 L433.6,279.9 L433.9,280.6 L434.0,281.5 L434.7,281.9 L435.3,282.4 L435.4,283.3 L436.5,282.6 L436.1,283.6 L437.2,284.3 L436.4,285.4 L437.6,286.1 L437.4,287.1 L437.7,286.2 L437.3,285.2 L437.8,284.4 L437.8,283.5 L438.2,282.6 L438.3,281.6 L438.8,280.7 L439.8,280.0 L439.7,278.9 L440.2,278.2 L439.5,277.2 L439.9,276.5 L440.2,275.8 L441.1,276.5 L440.5,277.6 L441.3,278.3 L440.7,279.4 L441.6,280.0 L441.6,281.0 L442.4,281.4 L442.5,280.5 L442.8,279.8 L443.8,279.6 L444.3,278.9 L444.9,278.1 L445.5,277.9 L446.3,277.7 L446.1,276.8 L446.7,276.1 L446.4,275.2 L447.2,274.4 L447.2,275.5 L447.7,276.3 L448.2,277.0 L448.0,276.0 L448.2,275.0 L448.9,274.2 L449.0,273.2 L448.9,272.3 L449.4,271.3 L449.6,272.4 L450.1,273.3 L449.9,274.1 L450.3,274.9 L450.9,275.7 L451.1,276.5 L450.4,277.5 L450.8,278.3 L451.2,277.4 L450.5,276.5 L451.4,275.7 L451.0,274.8 L451.6,274.0 L451.7,273.2 L451.4,272.3 L450.9,271.4 L452.0,270.6 L451.6,269.7 L451.9,268.9 L451.6,268.0 L451.6,267.1 L452.5,266.4 L452.1,265.5 L451.9,264.6 L452.5,263.8 L452.8,264.8 L453.1,265.7 L453.6,264.8 L453.7,263.8 L454.0,262.9 L454.1,261.9 L454.8,261.1 L454.8,260.1 L454.8,261.1 L455.6,261.9 L455.4,262.9 L455.8,263.8 L456.6,263.0 L456.9,261.9 L456.6,262.9 L456.9,263.8 L457.7,264.4 L458.2,263.8 L458.7,263.2 L459.6,263.2 L460.4,264.0 L459.6,265.2 L460.7,265.9 L460.7,266.9 L461.3,267.6 L461.3,268.4 L460.9,269.4 L461.3,270.1 L461.2,269.1 L462.0,268.3 L461.6,267.2 L462.3,266.3 L462.2,267.2 L462.4,268.1 L462.7,269.0 L462.7,269.9 L463.3,270.7 L463.0,271.7 L463.5,272.5 L463.8,273.2 L463.8,272.3 L464.4,271.5 L464.6,270.6 L464.6,269.7 L465.2,268.8 L465.2,269.7 L465.6,270.6 L465.2,271.6 L465.0,272.5 L465.9,273.3 L465.5,274.3 L465.4,275.2 L466.2,276.1 L466.0,277.0 L466.5,276.2 L465.9,275.3 L466.0,274.4 L466.6,273.6 L466.3,272.7 L466.2,271.9 L467.0,271.1 L466.9,270.2 L466.4,269.3 L466.4,268.4 L466.7,267.6 L466.8,266.7 L467.6,265.9 L467.6,265.0 L467.8,264.1 L467.9,263.2 L468.0,262.3 L467.6,261.3 L468.0,260.5 L468.8,259.9 L469.0,259.1 L468.7,258.2 L468.9,257.3 L469.4,256.5 L469.4,255.5 L469.8,254.7 L469.9,253.7 L470.2,252.9 L470.5,252.1 L470.1,251.1 L470.5,250.3 L471.6,249.7 L471.4,248.9 L472.3,248.5 L472.5,247.5 L472.6,248.5 L473.0,249.4 L473.9,250.1 L474.0,249.0 L475.0,248.8 L475.5,249.5 L475.3,250.4 L476.0,251.0 L475.9,251.9 L476.2,252.9 L477.1,253.2 L477.8,253.6 L478.0,254.4 L478.4,255.0 L479.2,254.3 L478.6,253.2 L478.8,252.4 L479.4,251.6 L479.3,250.5 L480.3,250.1 L481.1,249.5 L481.3,248.6 L481.3,247.7 L481.9,247.0 L482.2,246.3 L481.9,245.4 L482.0,244.7 L482.4,243.9 L482.8,243.2 L483.3,242.7 L483.7,242.1 L484.0,241.0 L485.0,240.1 L485.2,240.9 L485.6,241.6 L486.0,242.5 L486.6,243.4 L486.9,242.5 L486.5,241.6 L487.2,240.8 L487.0,239.9 L487.3,239.1 L487.5,238.2 L487.4,237.3 L487.5,236.5 L487.6,235.5 L487.9,234.7 L488.6,234.0 L488.6,233.1 L489.0,232.3 L488.4,231.4 L489.0,230.6 L489.7,229.9 L489.3,228.9 L489.8,228.1 L490.0,227.3 L490.3,226.4 L491.4,225.8 L491.4,224.5 L491.6,225.4 L492.5,225.8 L493.0,226.5 L492.2,227.5 L492.9,228.2 L492.8,228.9 L493.1,228.1 L493.5,227.3 L493.9,226.5 L493.5,225.5 L493.8,224.6 L494.8,223.8 L494.7,222.9 L494.2,221.9 L494.5,221.0 L494.8,220.1 L495.2,219.3 L495.3,218.4 L495.8,217.6 L495.9,216.7 L495.7,215.8 L496.4,215.3 L496.5,214.5 L496.7,215.6 L497.3,216.4 L497.8,215.6 L497.9,214.6 L498.2,213.8 L497.4,212.7 L498.4,212.0 L497.5,210.9 L498.3,210.2 L498.6,209.2 L498.8,208.3 L498.9,207.4 L499.2,208.2 L499.5,208.9 L499.2,209.8 L499.3,210.7 L499.8,211.4 L500.1,212.2 L500.0,213.1 L500.0,214.0 L499.8,214.9 L500.3,215.7 L500.2,216.6 L500.1,217.5 L500.3,218.3 L500.4,219.2 L499.9,220.1 L499.9,221.0 L500.3,221.8 L500.4,222.7 L500.8,223.5 L500.7,224.5 L501.0,225.3 L500.5,226.3 L500.5,227.2 L501.2,228.0 L500.9,229.0 L500.6,228.1 L501.4,227.3 L501.5,226.5 L501.7,225.7 L500.9,224.7 L501.4,223.9 L502.2,223.3 L501.5,222.0 L502.2,221.3 L502.9,220.8 L503.3,220.2 L503.1,221.2 L503.5,221.9 L504.2,222.7 L505.0,222.1 L504.8,221.0 L505.1,220.2 L505.8,219.4 L505.9,218.4 L506.4,217.6 L506.8,218.4 L507.3,218.9 L508.2,218.3 L508.2,217.3 L508.3,216.4 L508.3,215.5 L509.1,215.1 L509.3,214.2 L509.7,213.3 L510.0,212.3 L510.3,211.4 L510.9,210.6 L510.5,209.6 L510.7,208.7 L511.1,207.9 L511.4,207.0 L511.2,206.1 L511.6,205.4 L512.2,204.7 L512.1,203.7 L513.0,204.4 L512.7,205.5 L513.2,206.3 L513.9,207.0 L513.8,206.0 L515.0,205.5 L514.9,204.5 L514.8,205.5 L514.8,206.5 L515.1,207.4 L515.8,208.2 L515.6,207.3 L515.9,206.4 L516.4,205.6 L516.5,204.7 L516.6,203.8 L516.9,203.0 L517.6,202.6 L517.7,203.5 L518.1,204.4 L517.5,205.4 L518.1,206.2 L518.9,207.0 L518.7,208.0 L518.6,208.9 L519.1,209.6 L518.9,210.5 L519.9,211.1 L519.5,212.0 L520.4,211.3 L520.6,210.1 L520.9,209.3 L520.5,208.3 L521.0,207.4 L521.1,206.5 L520.9,205.6 L521.5,204.8 L521.5,203.9 L522.3,203.1 L522.0,202.0 L522.1,201.0 L522.3,200.0 L522.6,199.2 L523.3,198.9 L524.2,199.2 L524.2,200.0 L524.4,199.0 L525.2,198.2 L525.4,199.1 L526.3,199.5 L526.9,198.7 L526.3,197.6 L526.9,196.9 L527.8,196.1 L528.0,195.0 L528.9,195.8 L529.9,196.3 L530.1,195.2 L530.9,194.4 L531.7,194.8 L532.0,195.7 L532.3,194.9 L532.3,194.0 L532.7,193.2 L533.1,192.5 L533.6,191.8 L534.6,191.6 L534.6,190.7 L534.6,191.6 L535.5,191.9 L535.6,192.9 L536.2,193.7 L536.6,194.6 L536.4,195.7 L536.8,194.9 L536.3,194.0 L537.2,193.3 L537.2,192.4 L536.8,191.5 L537.2,190.7 L538.0,190.4 L538.0,189.4 L538.5,188.9 L538.8,187.9 L539.6,187.5 L540.4,187.4 L541.0,186.8 L541.5,187.4 L541.4,188.4 L542.2,188.8 L542.4,189.9 L543.1,190.6 L543.2,189.7 L543.8,188.9 L544.4,188.0 L545.1,188.9 L546.0,189.3 L546.3,190.1 L546.3,188.9 L547.2,188.2 L547.4,187.2 L547.7,186.2 L547.6,185.2 L548.3,184.3 L549.1,183.6 L548.9,182.5 L549.1,181.5 L549.6,180.6 L549.6,179.7 L549.7,178.9 L549.6,178.0 L550.4,177.2 L550.2,176.3 L550.1,175.4 L550.6,174.6 L551.6,175.3 L551.5,176.5 L552.2,175.8 L551.6,174.8 L552.2,174.1 L552.7,173.4 L553.2,172.7 L552.8,171.5 L553.5,170.8 L554.0,170.1 L553.8,169.2 L554.7,168.6 L554.5,167.6 L554.4,168.6 L555.3,169.0 L555.3,168.0 L555.9,167.3 L556.5,166.4 L556.4,167.4 L557.3,168.0 L557.5,169.0 L557.6,168.2 L557.6,167.4 L557.7,166.5 L558.2,165.8 L558.1,165.0 L559.1,164.4 L558.4,163.4 L559.1,162.7 L559.3,161.8 L559.2,160.8 L560.0,159.9 L559.8,158.9 L560.2,158.2 L560.3,157.4 L560.3,156.5 L560.8,155.8 L561.4,156.6 L561.5,157.6 L561.0,158.7 L561.5,159.5 L561.9,158.7 L561.4,157.7 L562.1,156.9 L562.0,156.0 L562.3,155.2 L562.2,154.3 L562.0,153.4 L562.4,152.6 L562.4,151.8 L562.4,150.9 L563.1,150.2 L562.9,149.1 L563.3,148.2 L564.1,147.4 L563.8,146.5 L564.0,147.3 L565.0,147.7 L564.6,146.7 L565.0,146.0 L565.0,145.1 L565.7,144.6 L566.7,145.1 L566.6,144.3 L566.9,143.5 L567.4,142.8 L567.4,142.0 L567.2,141.1 L568.1,140.4 L567.6,139.4 L568.1,138.7 L567.7,137.7 L568.3,136.8 L569.3,137.6 L569.6,136.7 L569.7,135.8 L569.1,134.7 L570.1,133.8 L570.4,134.7 L570.4,135.6 L570.3,136.5 L570.3,137.5 L570.8,138.3 L570.6,139.3 L570.3,140.2 L570.9,141.1 L570.2,142.1 L570.6,143.0 L570.8,143.9 L570.8,142.8 L571.4,142.0 L571.7,141.1 L571.4,140.1 L571.1,139.2 L572.2,138.4 L572.3,137.5 L571.8,136.5 L571.6,135.6 L572.7,134.8 L572.4,133.8 L572.0,132.8 L572.4,132.0 L572.5,131.1 L573.4,130.4 L573.1,129.4 L574.0,128.8 L574.1,127.9 L574.0,126.8 L574.8,126.1 L575.2,125.0 L575.2,126.0 L575.4,126.9 L576.0,127.5 L575.8,126.6 L576.9,125.9 L576.4,124.9 L577.2,124.1 L576.7,123.2 L576.6,124.1 L576.7,125.1 L577.1,126.0 L577.4,126.9 L578.0,127.8 L577.7,128.8 L577.8,128.0 L578.2,127.2 L578.9,126.6 L578.5,125.6 L579.2,124.8 L578.6,123.7 L579.5,122.9 L579.7,121.9 L579.5,121.0 L580.0,120.2 L580.7,119.5 L580.4,118.5 L580.5,119.3 L581.0,120.1 L581.4,120.8 L581.2,121.7 L581.1,122.5 L581.0,121.6 L581.4,120.9 L581.4,120.1 L582.0,119.4 L582.3,120.4 L582.8,121.2 L582.9,120.4 L583.4,119.6 L583.7,118.8 L583.4,119.8 L584.3,120.6 L584.6,121.5 L584.4,122.6 L585.4,123.3 L585.4,124.4 L586.0,125.2 L585.8,126.2 L586.4,126.9 L586.4,127.8 L587.3,128.4 L587.0,129.3 L587.4,130.1 L587.6,130.9 L587.3,131.8 L587.4,132.6 L588.3,133.3 L588.2,134.2 L588.0,135.1 L587.9,134.1 L587.8,133.1 L588.3,132.2 L588.3,131.3 L589.0,130.4 L589.0,129.4 L589.6,130.1 L589.6,130.9 L589.6,131.8 L589.9,132.6 L590.3,133.3 L590.6,134.2 L590.8,135.0 L589.7,136.0 L590.2,136.8 L590.8,137.6 L590.4,138.5 L590.1,139.5 L590.6,140.4 L591.2,141.3 L590.7,142.3 L590.8,143.2 L591.2,144.2 L590.8,145.1 L590.3,144.2 L591.5,143.4 L591.2,142.5 L591.2,141.6 L591.7,140.8 L591.4,139.9 L591.0,139.0 L591.0,138.1 L591.0,137.2 L591.3,136.2 L592.3,135.5 L592.5,134.6 L593.4,133.8 L593.9,134.7 L593.6,135.7 L593.6,136.7 L594.3,137.7 L595.1,136.9 L594.8,137.9 L594.8,138.8 L595.1,139.7 L595.7,140.5 L596.0,141.4 L595.3,142.4 L595.9,143.2 L596.1,144.1 L596.0,145.1 L596.3,145.9 L595.8,146.9 L596.6,147.7 L597.0,148.6 L596.5,149.6 L596.5,150.5 L596.6,151.4 L596.6,152.3 L596.6,153.2 L596.7,154.1 L597.3,154.9 L597.5,155.8 L597.1,154.9 L597.4,154.0 L597.8,153.1 L597.3,152.1 L598.1,151.3 L597.5,150.3 L597.9,149.4 L598.6,148.6 L598.3,147.5 L599.0,147.9 L599.0,148.9 L599.5,149.8 L599.0,150.8 L600.0,151.6 L599.2,152.7 L599.3,153.7 L600.0,154.6 L600.0,153.7 L600.0,152.9 L600.6,152.2 L600.6,151.4 L600.6,150.5 L600.6,149.6 L600.9,148.8 L601.3,148.0 L601.6,147.1 L601.8,146.3 L601.0,145.3 L601.5,144.4 L602.5,143.9 L603.0,143.0 L603.3,142.0 L603.3,141.0 L603.5,140.1 L604.2,139.4 L604.7,138.5 L605.4,137.7 L606.1,136.9 L606.3,136.1 L606.2,135.2 L607.0,135.8 L607.5,136.4 L607.9,137.0 L609.0,137.7 L609.1,138.9 L609.5,138.1 L609.5,137.1 L610.1,136.3 L610.8,135.7 L610.6,134.7 L611.0,133.9 L611.2,133.1 L611.7,132.5 L612.7,132.2 L613.0,131.3 L613.4,132.0 L613.1,133.0 L613.6,133.6 L613.6,134.4 L614.2,133.7 L614.1,132.8 L614.5,132.1 L614.7,131.3 L615.7,130.7 L616.0,131.7 L616.5,132.6 L616.4,131.6 L616.7,130.9 L617.8,130.4 L617.6,129.4 L617.6,128.5 L618.5,128.3 L619.4,127.5 L620.4,126.8 L621.3,127.6 L621.9,128.3 L621.9,129.2 L622.2,130.1 L622.1,129.0 L622.7,128.2 L622.4,127.1 L623.1,126.3 L623.5,125.5 L623.3,124.4 L624.1,123.8 L624.1,122.6 L625.1,121.9 L625.9,121.5 L626.0,120.7 L626.2,121.7 L627.0,122.6 L626.7,121.5 L627.9,120.8 L627.9,119.8 L627.7,118.7 L628.6,118.4 L628.6,117.4 L629.2,116.8 L628.8,117.8 L629.5,118.5 L629.5,119.3 L630.0,119.9 L630.8,119.6 L631.2,118.7 L631.5,119.6 L631.6,120.6 L632.2,121.5 L631.8,122.5 L632.4,123.3 L632.5,124.2 L632.2,125.2 L632.8,126.0 L633.0,127.0 L633.3,126.0 L633.8,125.2 L633.7,124.1 L633.7,123.2 L633.6,124.1 L634.5,124.9 L634.0,125.9 L634.6,126.7 L634.2,127.7 L634.4,128.6 L634.9,129.5 L634.9,128.6 L635.8,128.2 L635.6,129.2 L635.4,130.1 L635.8,130.9 L636.8,131.7 L636.3,132.6 L636.9,133.5 L636.4,134.5 L636.1,135.4 L637.0,136.3 L636.1,137.2 L636.5,138.1 L637.0,139.0 L637.2,139.9 L636.9,140.8 L636.5,141.8 L636.9,142.7 L637.5,143.6 L637.7,144.5 L637.7,145.5 L636.9,146.5 L637.7,147.3 L637.4,148.3 L637.8,149.2 L637.5,150.2 L637.8,151.0 L638.2,151.8 L637.5,152.8 L638.0,153.6 L637.9,154.4 L638.1,155.2 L637.8,156.1 L639.0,156.8 L638.7,157.7 L639.1,158.5 L638.7,159.4 L638.7,160.3 L638.6,161.1 L639.6,161.8 L639.5,162.7 L638.9,163.6 L639.2,164.4 L639.4,165.3 L639.5,164.3 L639.1,163.4 L640.0,162.5 L639.5,161.6 L640.1,160.7 L639.8,159.8 L639.2,158.9 L639.5,158.0 L639.4,157.0 L640.3,156.2 L639.9,155.2 L639.4,154.3 L639.6,153.5 L639.9,152.7 L640.1,151.9 L640.4,151.0 L640.3,150.2 L640.4,149.2 L640.3,148.2 L641.2,147.4 L641.3,146.4 L641.0,145.4 L641.7,144.7 L642.5,143.9 L641.6,142.8 L642.2,142.0 L642.8,141.3 L642.5,140.4 L642.8,139.6 L643.2,138.9 L643.3,138.0 L643.9,137.3 L644.1,136.4 L645.0,135.8 L645.3,134.9 L644.9,133.8 L645.7,133.0 L646.0,132.0 L645.9,133.0 L646.1,133.8 L646.5,134.7 L646.7,135.6 L647.1,136.4 L647.4,137.2 L647.0,138.2 L647.1,139.1 L647.2,140.0 L648.0,140.8 L647.8,140.0 L648.6,139.3 L648.7,138.5 L648.6,137.7 L649.0,136.8 L648.8,135.9 L649.2,135.0 L649.2,134.1 L649.3,133.2 L649.6,132.3 L649.9,131.3 L651.0,130.6 L650.8,129.5 L650.9,128.5 L651.1,127.5 L651.4,126.6 L652.0,125.7 L652.4,124.9 L653.5,124.7 L653.3,125.8 L654.2,126.2 L654.6,127.0 L654.5,127.8 L654.9,128.7 L655.2,129.5 L655.4,130.4 L655.2,131.2 L655.2,132.1 L654.8,133.0 L655.1,133.8 L654.7,134.7 L655.5,135.5 L655.6,136.5 L655.8,135.6 L655.6,134.5 L656.3,133.9 L656.8,133.0 L657.5,132.2 L657.0,131.0 L657.5,130.1 L657.5,129.3 L658.1,128.5 L657.3,127.5 L658.0,126.8 L658.6,126.0 L658.2,125.1 L658.3,124.2 L658.3,123.2 L659.3,122.6 L659.6,123.5 L659.3,124.5 L660.0,125.4 L660.0,126.3 L660.4,127.2 L660.2,128.2 L660.8,127.5 L660.8,126.5 L660.4,125.5 L661.3,124.8 L661.4,123.9 L661.6,123.1 L661.3,122.1 L662.5,121.6 L662.3,120.8 L662.9,121.5 L663.4,122.2 L663.2,123.2 L663.5,122.4 L664.1,121.6 L664.0,120.6 L664.5,119.8 L664.1,118.8 L664.3,117.9 L665.1,117.3 L665.3,116.3 L665.4,115.3 L666.0,114.5 L666.0,113.4 L666.6,112.4 L667.0,113.1 L667.3,113.7 L667.9,113.0 L667.9,112.1 L668.3,111.3 L669.3,111.9 L669.1,111.0 L669.5,110.2 L669.1,109.3 L670.4,108.7 L670.1,107.8 L670.4,107.0 L670.5,105.9 L671.5,105.7 L672.3,105.2 L672.7,104.3 L673.0,103.4 L674.1,103.1 L674.8,103.5 L674.6,104.6 L675.1,105.0 L675.8,104.3 L675.7,103.4 L676.0,102.7 L676.3,101.9 L676.9,101.3 L677.6,100.7 L678.0,99.7 L678.2,98.6 L679.0,98.4 L680.1,98.8 L680.6,99.5 L681.3,99.6 L681.3,100.4 L682.1,101.1 L681.8,102.0 L682.6,102.7 L682.5,101.7 L682.5,100.7 L683.0,99.9 L683.1,99.0 L683.8,99.8 L684.1,100.7 L683.7,101.7 L683.6,102.7 L683.6,103.7 L684.1,104.6 L684.9,103.8 L684.3,102.6 L685.2,101.8 L685.0,100.7 L685.0,99.7 L685.6,98.9 L686.2,98.2 L686.8,97.7 L687.3,97.1 L687.7,96.4 L687.7,97.6 L688.6,98.3 L688.4,97.3 L688.7,96.3 L689.6,95.5 L689.7,94.6 L689.6,93.5 L689.8,92.6 L690.9,92.1 L691.2,91.2 L692.2,90.9 L692.4,90.1 L693.0,89.6 L693.3,88.8 L694.1,88.9 L694.5,88.3 L694.8,87.3 L695.8,86.8 L695.6,85.7 L696.3,84.9 L695.8,83.9 L696.7,83.2 L696.7,82.2 L696.9,81.4 L697.8,82.0 L697.4,82.9 L697.8,83.7 L698.1,84.6 L698.9,83.8 L699.0,82.6 L699.1,81.5 L699.8,80.7 L700.1,79.9 L700.8,79.5 L701.4,80.2 L701.7,81.0 L701.6,82.0 L701.9,83.0 L702.5,83.9 L702.0,84.9 L703.0,85.8 L702.7,86.9 L702.8,87.9 L703.4,87.1 L703.5,86.2 L702.9,85.3 L703.5,84.5 L703.3,83.6" fill="none" stroke="#0000f4" stroke-width="1.3" stroke-linejoin="round" clip-path="url(#pc)"/>
<g fill="#000000">
<rect x="25" y="47" width="681" height="1"/>
<rect x="25" y="47" width="1" height="465"/>
<rect x="25" y="511" width="681" height="1"/>
<rect x="705" y="47" width="1" height="465"/>
<rect x="58" y="512" width="1" height="4"/>
<rect x="90" y="512" width="1" height="3"/>
<rect x="123" y="512" width="1" height="4"/>
<rect x="155" y="512" width="1" height="3"/>
<rect x="188" y="512" width="1" height="4"/>
<rect x="221" y="512" width="1" height="3"/>
<rect x="253" y="512" width="1" height="4"/>
<rect x="286" y="512" width="1" height="3"/>
<rect x="318" y="512" width="1" height="4"/>
<rect x="351" y="512" width="1" height="3"/>
<rect x="384" y="512" width="1" height="4"/>
<rect x="416" y="512" width="1" height="3"/>
<rect x="449" y="512" width="1" height="4"/>
<rect x="481" y="512" width="1" height="3"/>
<rect x="514" y="512" width="1" height="4"/>
<rect x="547" y="512" width="1" height="3"/>
<rect x="579" y="512" width="1" height="4"/>
<rect x="612" y="512" width="1" height="3"/>
<rect x="645" y="512" width="1" height="4"/>
<rect x="677" y="512" width="1" height="3"/>
<rect x="25" y="512" width="1" height="3"/>
<rect x="706" y="47" width="4" height="1"/>
<rect x="706" y="101" width="4" height="1"/>
<rect x="706" y="142" width="4" height="1"/>
<rect x="706" y="184" width="4" height="1"/>
<rect x="706" y="238" width="4" height="1"/>
<rect x="706" y="279" width="4" height="1"/>
<rect x="706" y="320" width="4" height="1"/>
<rect x="706" y="374" width="4" height="1"/>
<rect x="706" y="416" width="4" height="1"/>
<rect x="706" y="457" width="4" height="1"/>
<rect x="706" y="511" width="4" height="1"/>
</g>
<g font-size="11" fill="#000000">
<text x="59.5" y="527" text-anchor="middle">1920</text>
<text x="124.5" y="527" text-anchor="middle">1930</text>
<text x="189.5" y="527" text-anchor="middle">1940</text>
<text x="254.5" y="527" text-anchor="middle">1950</text>
<text x="319.5" y="527" text-anchor="middle">1960</text>
<text x="385.5" y="527" text-anchor="middle">1970</text>
<text x="450.5" y="527" text-anchor="middle">1980</text>
<text x="515.5" y="527" text-anchor="middle">1990</text>
<text x="580.5" y="527" text-anchor="middle">2000</text>
<text x="646.5" y="527" text-anchor="middle">2010</text>
<text x="713" y="50.8">5000</text>
<text x="713" y="104.8">2000</text>
<text x="713" y="145.8">1000</text>
<text x="713" y="187.8">500</text>
<text x="713" y="241.8">200</text>
<text x="713" y="282.8">100</text>
<text x="713" y="323.8">50</text>
<text x="713" y="377.8">20</text>
<text x="713" y="419.8">10</text>
<text x="713" y="460.8">5</text>
<text x="713" y="514.8">2</text>
<text x="26.5" y="43" textLength="82.4">Date = 20190208</text>
<text x="622" y="43" textLength="72">Last = 2707.88</text>
</g>
<text x="383.5" y="45" font-size="16" text-anchor="middle" fill="#000000">SP500 Index</text>
<text x="380" y="21.8" font-size="19" font-weight="bold" text-anchor="middle" fill="#000080">US INDICES</text>
<text x="394.5" y="543" font-size="13.3" font-weight="bold" text-anchor="middle" fill="#000080">world gold charts © www.goldchartsrus.com</text>
<text transform="translate(753,280.2) rotate(-90)" font-size="11.6" font-weight="bold" text-anchor="middle" fill="#000000">Index</text>
</svg></body></html>
